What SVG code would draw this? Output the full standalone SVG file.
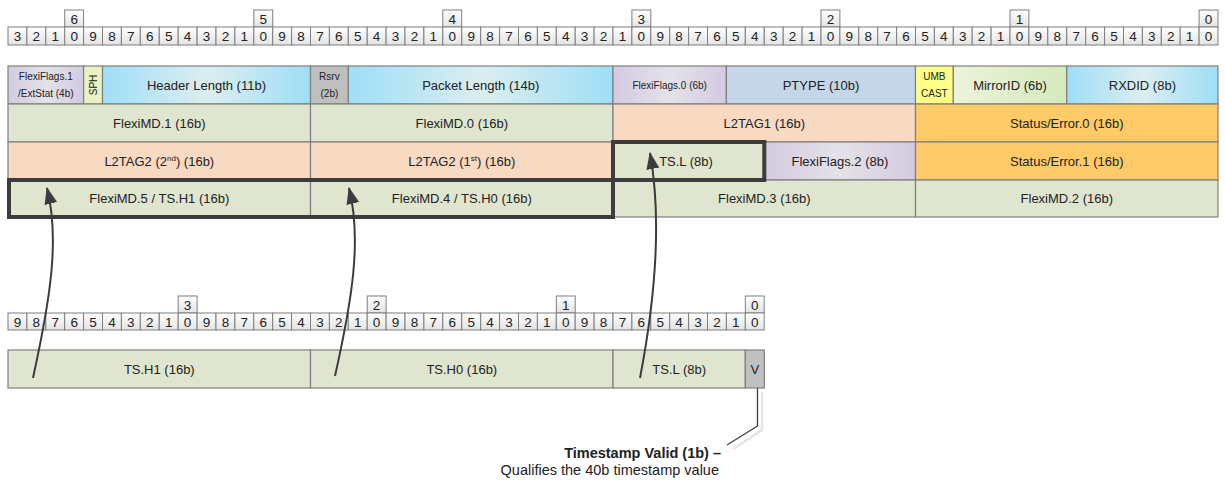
<svg xmlns="http://www.w3.org/2000/svg" width="1225" height="481" viewBox="0 0 1225 481">
<defs>
<linearGradient id="rg" x1="0" y1="0" x2="0" y2="1"><stop offset="0" stop-color="#ffffff"/><stop offset="1" stop-color="#e4e4e4"/></linearGradient>
<linearGradient id="cy" x1="0" y1="0" x2="1" y2="0"><stop offset="0" stop-color="#9edef7"/><stop offset="0.5" stop-color="#dbeef0"/><stop offset="1" stop-color="#9edef7"/></linearGradient>
<linearGradient id="lv" x1="0" y1="0" x2="1" y2="0"><stop offset="0" stop-color="#d3cae1"/><stop offset="0.5" stop-color="#e4e2e8"/><stop offset="1" stop-color="#d3cae1"/></linearGradient>
<linearGradient id="gn" x1="0" y1="0" x2="1" y2="0"><stop offset="0" stop-color="#ecf3da"/><stop offset="1" stop-color="#d4eabb"/></linearGradient>
<marker id="ah" markerWidth="17" markerHeight="13" refX="16" refY="6.5" orient="auto" markerUnits="userSpaceOnUse" viewBox="0 0 17 13"><path d="M0,0 L17,6.5 L0,13 Z" fill="#3c3c3c"/></marker>
</defs>
<style>
.c{fill:url(#rg);stroke:#7f7f7f;stroke-width:1}
.d{font-family:"Liberation Sans",Arial,sans-serif;font-size:13.5px;fill:#222;text-anchor:middle}
.f{stroke:#7f7f7f;stroke-width:1.2}
.t{font-family:"Liberation Sans",Arial,sans-serif;font-size:13px;fill:#222;text-anchor:middle}
.s{font-family:"Liberation Sans",Arial,sans-serif;font-size:10px;fill:#222;text-anchor:middle}
.grn{fill:#dfe5cf}.pch{fill:#f8d9c2}.org{fill:#fecb68}
.thick{fill:none;stroke:#3c3c3c;stroke-width:4}
.arr{fill:none;stroke:#3c3c3c;stroke-width:2}
.an{font-family:"Liberation Sans",Arial,sans-serif;font-size:14.5px;fill:#222;text-anchor:end}
</style>

<g id="top-ruler">
<rect class="c" x="64.7" y="10" width="18.9" height="17"/><text class="d" x="74.15" y="23.5">6</text>
<rect class="c" x="253.8" y="10" width="18.9" height="17"/><text class="d" x="263.2" y="23.5">5</text>
<rect class="c" x="442.8" y="10" width="18.9" height="17"/><text class="d" x="452.2" y="23.5">4</text>
<rect class="c" x="631.9" y="10" width="18.9" height="17"/><text class="d" x="641.3" y="23.5">3</text>
<rect class="c" x="821.0" y="10" width="18.9" height="17"/><text class="d" x="830.4" y="23.5">2</text>
<rect class="c" x="1010.0" y="10" width="18.9" height="17"/><text class="d" x="1019.4" y="23.5">1</text>
<rect class="c" x="1199.1" y="10" width="18.9" height="17"/><text class="d" x="1208.5" y="23.5">0</text>
<rect class="c" x="8.0" y="27" width="18.9" height="18"/><text class="d" x="17.45" y="41">3</text>
<rect class="c" x="26.9" y="27" width="18.9" height="18"/><text class="d" x="36.35" y="41">2</text>
<rect class="c" x="45.8" y="27" width="18.9" height="18"/><text class="d" x="55.25" y="41">1</text>
<rect class="c" x="64.7" y="27" width="18.9" height="18"/><text class="d" x="74.15" y="41">0</text>
<rect class="c" x="83.6" y="27" width="18.9" height="18"/><text class="d" x="93.05" y="41">9</text>
<rect class="c" x="102.5" y="27" width="18.9" height="18"/><text class="d" x="111.95" y="41">8</text>
<rect class="c" x="121.4" y="27" width="18.9" height="18"/><text class="d" x="130.85" y="41">7</text>
<rect class="c" x="140.3" y="27" width="18.9" height="18"/><text class="d" x="149.75" y="41">6</text>
<rect class="c" x="159.3" y="27" width="18.9" height="18"/><text class="d" x="168.7" y="41">5</text>
<rect class="c" x="178.2" y="27" width="18.9" height="18"/><text class="d" x="187.6" y="41">4</text>
<rect class="c" x="197.1" y="27" width="18.9" height="18"/><text class="d" x="206.5" y="41">3</text>
<rect class="c" x="216.0" y="27" width="18.9" height="18"/><text class="d" x="225.4" y="41">2</text>
<rect class="c" x="234.9" y="27" width="18.9" height="18"/><text class="d" x="244.3" y="41">1</text>
<rect class="c" x="253.8" y="27" width="18.9" height="18"/><text class="d" x="263.2" y="41">0</text>
<rect class="c" x="272.7" y="27" width="18.9" height="18"/><text class="d" x="282.1" y="41">9</text>
<rect class="c" x="291.6" y="27" width="18.9" height="18"/><text class="d" x="301.0" y="41">8</text>
<rect class="c" x="310.5" y="27" width="18.9" height="18"/><text class="d" x="319.9" y="41">7</text>
<rect class="c" x="329.4" y="27" width="18.9" height="18"/><text class="d" x="338.8" y="41">6</text>
<rect class="c" x="348.3" y="27" width="18.9" height="18"/><text class="d" x="357.7" y="41">5</text>
<rect class="c" x="367.2" y="27" width="18.9" height="18"/><text class="d" x="376.6" y="41">4</text>
<rect class="c" x="386.1" y="27" width="18.9" height="18"/><text class="d" x="395.5" y="41">3</text>
<rect class="c" x="405.0" y="27" width="18.9" height="18"/><text class="d" x="414.4" y="41">2</text>
<rect class="c" x="423.9" y="27" width="18.9" height="18"/><text class="d" x="433.3" y="41">1</text>
<rect class="c" x="442.8" y="27" width="18.9" height="18"/><text class="d" x="452.2" y="41">0</text>
<rect class="c" x="461.8" y="27" width="18.9" height="18"/><text class="d" x="471.2" y="41">9</text>
<rect class="c" x="480.7" y="27" width="18.9" height="18"/><text class="d" x="490.1" y="41">8</text>
<rect class="c" x="499.6" y="27" width="18.9" height="18"/><text class="d" x="509.0" y="41">7</text>
<rect class="c" x="518.5" y="27" width="18.9" height="18"/><text class="d" x="527.9" y="41">6</text>
<rect class="c" x="537.4" y="27" width="18.9" height="18"/><text class="d" x="546.8" y="41">5</text>
<rect class="c" x="556.3" y="27" width="18.9" height="18"/><text class="d" x="565.7" y="41">4</text>
<rect class="c" x="575.2" y="27" width="18.9" height="18"/><text class="d" x="584.6" y="41">3</text>
<rect class="c" x="594.1" y="27" width="18.9" height="18"/><text class="d" x="603.5" y="41">2</text>
<rect class="c" x="613.0" y="27" width="18.9" height="18"/><text class="d" x="622.4" y="41">1</text>
<rect class="c" x="631.9" y="27" width="18.9" height="18"/><text class="d" x="641.3" y="41">0</text>
<rect class="c" x="650.8" y="27" width="18.9" height="18"/><text class="d" x="660.2" y="41">9</text>
<rect class="c" x="669.7" y="27" width="18.9" height="18"/><text class="d" x="679.1" y="41">8</text>
<rect class="c" x="688.6" y="27" width="18.9" height="18"/><text class="d" x="698.0" y="41">7</text>
<rect class="c" x="707.5" y="27" width="18.9" height="18"/><text class="d" x="716.9" y="41">6</text>
<rect class="c" x="726.4" y="27" width="18.9" height="18"/><text class="d" x="735.8" y="41">5</text>
<rect class="c" x="745.3" y="27" width="18.9" height="18"/><text class="d" x="754.7" y="41">4</text>
<rect class="c" x="764.3" y="27" width="18.9" height="18"/><text class="d" x="773.7" y="41">3</text>
<rect class="c" x="783.2" y="27" width="18.9" height="18"/><text class="d" x="792.6" y="41">2</text>
<rect class="c" x="802.1" y="27" width="18.9" height="18"/><text class="d" x="811.5" y="41">1</text>
<rect class="c" x="821.0" y="27" width="18.9" height="18"/><text class="d" x="830.4" y="41">0</text>
<rect class="c" x="839.9" y="27" width="18.9" height="18"/><text class="d" x="849.3" y="41">9</text>
<rect class="c" x="858.8" y="27" width="18.9" height="18"/><text class="d" x="868.2" y="41">8</text>
<rect class="c" x="877.7" y="27" width="18.9" height="18"/><text class="d" x="887.1" y="41">7</text>
<rect class="c" x="896.6" y="27" width="18.9" height="18"/><text class="d" x="906.0" y="41">6</text>
<rect class="c" x="915.5" y="27" width="18.9" height="18"/><text class="d" x="924.9" y="41">5</text>
<rect class="c" x="934.4" y="27" width="18.9" height="18"/><text class="d" x="943.8" y="41">4</text>
<rect class="c" x="953.3" y="27" width="18.9" height="18"/><text class="d" x="962.7" y="41">3</text>
<rect class="c" x="972.2" y="27" width="18.9" height="18"/><text class="d" x="981.6" y="41">2</text>
<rect class="c" x="991.1" y="27" width="18.9" height="18"/><text class="d" x="1000.5" y="41">1</text>
<rect class="c" x="1010.0" y="27" width="18.9" height="18"/><text class="d" x="1019.4" y="41">0</text>
<rect class="c" x="1028.9" y="27" width="18.9" height="18"/><text class="d" x="1038.3" y="41">9</text>
<rect class="c" x="1047.8" y="27" width="18.9" height="18"/><text class="d" x="1057.2" y="41">8</text>
<rect class="c" x="1066.8" y="27" width="18.9" height="18"/><text class="d" x="1076.2" y="41">7</text>
<rect class="c" x="1085.7" y="27" width="18.9" height="18"/><text class="d" x="1095.1" y="41">6</text>
<rect class="c" x="1104.6" y="27" width="18.9" height="18"/><text class="d" x="1114.0" y="41">5</text>
<rect class="c" x="1123.5" y="27" width="18.9" height="18"/><text class="d" x="1132.9" y="41">4</text>
<rect class="c" x="1142.4" y="27" width="18.9" height="18"/><text class="d" x="1151.8" y="41">3</text>
<rect class="c" x="1161.3" y="27" width="18.9" height="18"/><text class="d" x="1170.7" y="41">2</text>
<rect class="c" x="1180.2" y="27" width="18.9" height="18"/><text class="d" x="1189.6" y="41">1</text>
<rect class="c" x="1199.1" y="27" width="18.9" height="18"/><text class="d" x="1208.5" y="41">0</text>
</g>

<g id="row1">
<g id="flexiflags1"><rect class="f" x="8" y="66" width="75.6" height="38" fill="url(#lv)"/><text class="s" x="45.8" y="80">FlexiFlags.1</text><text class="s" x="45.8" y="97">/ExtStat (4b)</text></g>
<g id="sph"><rect class="f" x="83.6" y="66" width="18.9" height="38" fill="#e8f2c4"/><text class="s" font-size="11" transform="translate(97,85) rotate(-90)" x="0" y="0">SPH</text></g>
<g id="header-length"><rect class="f" x="102.5" y="66" width="208" height="38" fill="url(#cy)"/><text class="t" x="206.5" y="89.5">Header Length (11b)</text></g>
<g id="rsrv"><rect class="f" x="310.5" y="66" width="37.8" height="38" fill="#bfbfbf"/><text class="s" x="329.4" y="80">Rsrv</text><text class="s" x="329.4" y="97">(2b)</text></g>
<g id="packet-length"><rect class="f" x="348.3" y="66" width="264.7" height="38" fill="url(#cy)"/><text class="t" x="480.7" y="89.5">Packet Length (14b)</text></g>
<g id="flexiflags0"><rect class="f" x="613" y="66" width="113.4" height="38" fill="url(#lv)"/><text class="s" font-size="10.5" x="669.7" y="89">FlexiFlags.0 (6b)</text></g>
<g id="ptype"><rect class="f" x="726.4" y="66" width="189.1" height="38" fill="#c5d6e8"/><text class="t" x="821" y="89.5">PTYPE (10b)</text></g>
<g id="umbcast"><rect class="f" x="915.5" y="66" width="37.8" height="38" fill="#ffff88"/><text class="s" x="934.4" y="80">UMB</text><text class="s" x="934.4" y="97">CAST</text></g>
<g id="mirrorid"><rect class="f" x="953.3" y="66" width="113.5" height="38" fill="url(#gn)"/><text class="t" x="1010" y="89.5">MirrorID (6b)</text></g>
<g id="rxdid"><rect class="f" x="1066.8" y="66" width="151.2" height="38" fill="url(#cy)"/><text class="t" x="1142.4" y="89.5">RXDID (8b)</text></g>
</g>

<g id="row2">
<g id="flexomd1"><rect class="f grn" x="8" y="104" width="302.5" height="38"/><text class="t" x="159.3" y="127.5">FlexiMD.1 (16b)</text></g>
<g id="flexomd0"><rect class="f grn" x="310.5" y="104" width="302.5" height="38"/><text class="t" x="461.8" y="127.5">FlexiMD.0 (16b)</text></g>
<g id="l2tag1"><rect class="f pch" x="613" y="104" width="302.5" height="38"/><text class="t" x="764.3" y="127.5">L2TAG1 (16b)</text></g>
<g id="status0"><rect class="f org" x="915.5" y="104" width="302.5" height="38"/><text class="t" x="1066.8" y="127.5">Status/Error.0 (16b)</text></g>
</g>

<g id="row3">
<g id="l2tag2-2nd"><rect class="f pch" x="8" y="142" width="302.5" height="38"/><text class="t" x="159.3" y="165.5">L2TAG2 (2<tspan font-size="8" dy="-5">nd</tspan><tspan dy="5">) (16b)</tspan></text></g>
<g id="l2tag2-1st"><rect class="f pch" x="310.5" y="142" width="302.5" height="38"/><text class="t" x="461.8" y="165.5">L2TAG2 (1<tspan font-size="8" dy="-5">st</tspan><tspan dy="5">) (16b)</tspan></text></g>
<g id="tsl-top"><rect class="f grn" x="613" y="142" width="151.3" height="38"/><text class="t" x="686" y="165.5">TS.L (8b)</text></g>
<g id="flexiflags2"><rect class="f" x="764.3" y="142" width="151.2" height="38" fill="url(#lv)"/><text class="t" x="839.9" y="165.5">FlexiFlags.2 (8b)</text></g>
<g id="status1"><rect class="f org" x="915.5" y="142" width="302.5" height="38"/><text class="t" x="1066.8" y="165.5">Status/Error.1 (16b)</text></g>
</g>

<g id="row4">
<g id="flexomd5"><rect class="f grn" x="8" y="180" width="302.5" height="37"/><text class="t" x="159.3" y="203">FlexiMD.5 / TS.H1 (16b)</text></g>
<g id="flexomd4"><rect class="f grn" x="310.5" y="180" width="302.5" height="37"/><text class="t" x="461.8" y="203">FlexiMD.4 / TS.H0 (16b)</text></g>
<g id="flexomd3"><rect class="f grn" x="613" y="180" width="302.5" height="37"/><text class="t" x="764.3" y="203">FlexiMD.3 (16b)</text></g>
<g id="flexomd2"><rect class="f grn" x="915.5" y="180" width="302.5" height="37"/><text class="t" x="1066.8" y="203">FlexiMD.2 (16b)</text></g>
</g>

<g id="highlights">
<rect class="thick" x="9" y="180" width="604" height="37"/>
<rect class="thick" x="613" y="142" width="151.3" height="38"/>
</g>

<g id="bottom-ruler">
<rect class="c" x="178.2" y="296" width="18.9" height="17"/><text class="d" x="187.6" y="309.5">3</text>
<rect class="c" x="367.2" y="296" width="18.9" height="17"/><text class="d" x="376.6" y="309.5">2</text>
<rect class="c" x="556.3" y="296" width="18.9" height="17"/><text class="d" x="565.7" y="309.5">1</text>
<rect class="c" x="745.3" y="296" width="18.9" height="17"/><text class="d" x="754.7" y="309.5">0</text>
<rect class="c" x="8.0" y="313" width="18.9" height="17"/><text class="d" x="17.45" y="326.5">9</text>
<rect class="c" x="26.9" y="313" width="18.9" height="17"/><text class="d" x="36.35" y="326.5">8</text>
<rect class="c" x="45.8" y="313" width="18.9" height="17"/><text class="d" x="55.25" y="326.5">7</text>
<rect class="c" x="64.7" y="313" width="18.9" height="17"/><text class="d" x="74.15" y="326.5">6</text>
<rect class="c" x="83.6" y="313" width="18.9" height="17"/><text class="d" x="93.05" y="326.5">5</text>
<rect class="c" x="102.5" y="313" width="18.9" height="17"/><text class="d" x="111.95" y="326.5">4</text>
<rect class="c" x="121.4" y="313" width="18.9" height="17"/><text class="d" x="130.85" y="326.5">3</text>
<rect class="c" x="140.3" y="313" width="18.9" height="17"/><text class="d" x="149.75" y="326.5">2</text>
<rect class="c" x="159.3" y="313" width="18.9" height="17"/><text class="d" x="168.7" y="326.5">1</text>
<rect class="c" x="178.2" y="313" width="18.9" height="17"/><text class="d" x="187.6" y="326.5">0</text>
<rect class="c" x="197.1" y="313" width="18.9" height="17"/><text class="d" x="206.5" y="326.5">9</text>
<rect class="c" x="216.0" y="313" width="18.9" height="17"/><text class="d" x="225.4" y="326.5">8</text>
<rect class="c" x="234.9" y="313" width="18.9" height="17"/><text class="d" x="244.3" y="326.5">7</text>
<rect class="c" x="253.8" y="313" width="18.9" height="17"/><text class="d" x="263.2" y="326.5">6</text>
<rect class="c" x="272.7" y="313" width="18.9" height="17"/><text class="d" x="282.1" y="326.5">5</text>
<rect class="c" x="291.6" y="313" width="18.9" height="17"/><text class="d" x="301.0" y="326.5">4</text>
<rect class="c" x="310.5" y="313" width="18.9" height="17"/><text class="d" x="319.9" y="326.5">3</text>
<rect class="c" x="329.4" y="313" width="18.9" height="17"/><text class="d" x="338.8" y="326.5">2</text>
<rect class="c" x="348.3" y="313" width="18.9" height="17"/><text class="d" x="357.7" y="326.5">1</text>
<rect class="c" x="367.2" y="313" width="18.9" height="17"/><text class="d" x="376.6" y="326.5">0</text>
<rect class="c" x="386.1" y="313" width="18.9" height="17"/><text class="d" x="395.5" y="326.5">9</text>
<rect class="c" x="405.0" y="313" width="18.9" height="17"/><text class="d" x="414.4" y="326.5">8</text>
<rect class="c" x="423.9" y="313" width="18.9" height="17"/><text class="d" x="433.3" y="326.5">7</text>
<rect class="c" x="442.8" y="313" width="18.9" height="17"/><text class="d" x="452.2" y="326.5">6</text>
<rect class="c" x="461.8" y="313" width="18.9" height="17"/><text class="d" x="471.2" y="326.5">5</text>
<rect class="c" x="480.7" y="313" width="18.9" height="17"/><text class="d" x="490.1" y="326.5">4</text>
<rect class="c" x="499.6" y="313" width="18.9" height="17"/><text class="d" x="509.0" y="326.5">3</text>
<rect class="c" x="518.5" y="313" width="18.9" height="17"/><text class="d" x="527.9" y="326.5">2</text>
<rect class="c" x="537.4" y="313" width="18.9" height="17"/><text class="d" x="546.8" y="326.5">1</text>
<rect class="c" x="556.3" y="313" width="18.9" height="17"/><text class="d" x="565.7" y="326.5">0</text>
<rect class="c" x="575.2" y="313" width="18.9" height="17"/><text class="d" x="584.6" y="326.5">9</text>
<rect class="c" x="594.1" y="313" width="18.9" height="17"/><text class="d" x="603.5" y="326.5">8</text>
<rect class="c" x="613.0" y="313" width="18.9" height="17"/><text class="d" x="622.4" y="326.5">7</text>
<rect class="c" x="631.9" y="313" width="18.9" height="17"/><text class="d" x="641.3" y="326.5">6</text>
<rect class="c" x="650.8" y="313" width="18.9" height="17"/><text class="d" x="660.2" y="326.5">5</text>
<rect class="c" x="669.7" y="313" width="18.9" height="17"/><text class="d" x="679.1" y="326.5">4</text>
<rect class="c" x="688.6" y="313" width="18.9" height="17"/><text class="d" x="698.0" y="326.5">3</text>
<rect class="c" x="707.5" y="313" width="18.9" height="17"/><text class="d" x="716.9" y="326.5">2</text>
<rect class="c" x="726.4" y="313" width="18.9" height="17"/><text class="d" x="735.8" y="326.5">1</text>
<rect class="c" x="745.3" y="313" width="18.9" height="17"/><text class="d" x="754.7" y="326.5">0</text>
</g>

<g id="timestamp">
<g id="ts-h1"><rect class="f grn" x="8" y="350" width="302.5" height="38"/><text class="t" x="159.3" y="373.5">TS.H1 (16b)</text></g>
<g id="ts-h0"><rect class="f grn" x="310.5" y="350" width="302.5" height="38"/><text class="t" x="461.8" y="373.5">TS.H0 (16b)</text></g>
<g id="ts-l"><rect class="f grn" x="613" y="350" width="132.3" height="38"/><text class="t" x="679.2" y="373.5">TS.L (8b)</text></g>
<g id="ts-v"><rect class="f" x="745.3" y="350" width="19" height="38" fill="#c0c0c0"/><text class="t" x="754.8" y="373.5">V</text></g>
</g>

<g id="connectors">
<path class="arr" d="M33,378 C50,300 60,240 47,188" marker-end="url(#ah)"/>
<path class="arr" d="M335,376 C352,300 362,240 349,188" marker-end="url(#ah)"/>
<path class="arr" d="M640,378 C655,300 662,220 650,153" marker-end="url(#ah)"/>
<polyline points="762,392 762,430 733,449" fill="none" stroke="#e6e6e6" stroke-width="2.5"/>
<polyline points="757.5,388 757.5,426 727,445" fill="none" stroke="#3c3c3c" stroke-width="1.3"/>
</g>

<g id="annotation">
<text class="an" x="721" y="458" font-weight="bold">Timestamp Valid (1b) –</text>
<text class="an" x="719" y="475">Qualifies the 40b timestamp value</text>
</g>
</svg>
